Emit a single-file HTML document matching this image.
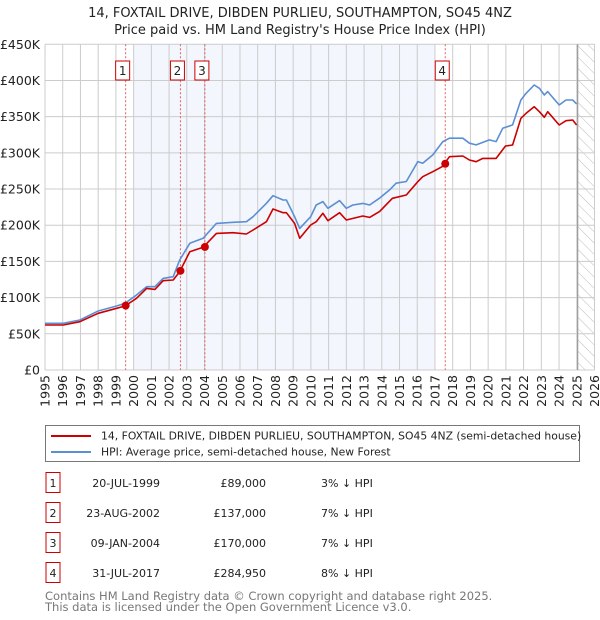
<!DOCTYPE html>
<html><head><meta charset="utf-8"><style>
body{margin:0;background:#fff;font-family:"Liberation Sans","DejaVu Sans",sans-serif;}
#wrap{position:relative;width:600px;height:620px;overflow:hidden;}
svg text{font-family:"DejaVu Sans","Liberation Sans",sans-serif;}
</style></head><body><div id="wrap">
<svg id="chart" width="600" height="620"></svg>
</div>
<script>
const hpiYears=[1995,1996.03,1996.97,1998,1999.04,1999.52,2000.16,2000.73,2001.2,2001.66,2002.23,2002.6,2003.17,2003.92,2004.67,2005.61,2006.36,2006.74,2007.49,2007.86,2008.43,2008.62,2009.08,2009.37,2009.99,2010.3,2010.68,2010.96,2011.62,2012.0,2012.37,2012.93,2013.31,2013.87,2014.44,2014.81,2015.38,2016.03,2016.31,2016.88,2017.44,2017.82,2018.57,2018.94,2019.32,2020.07,2020.45,2020.82,2021.38,2021.85,2022.14,2022.6,2022.89,2023.17,2023.36,2024.01,2024.39,2024.77,2024.99];
const hpiValues=[64.5,64.5,69.1,81.5,88.4,92.1,103.6,115.1,115.1,126.6,128.9,152,175,181.9,202.6,204,204.9,211.8,230.3,240.8,234.9,234.9,211.8,195.7,211.8,228,232.6,223.4,234,223.4,228,230.2,228,237.4,248.9,258.1,260.4,288,285.7,297.2,315.6,320.2,320.2,313.3,311,317.9,315.6,334,338.6,373,382.3,393.8,389.2,380,384.6,366.2,373.1,373.1,367.6];
const propYears=[1995,1996.03,1996.97,1998,1999.04,1999.52,2000.16,2000.73,2001.2,2001.66,2002.23,2002.6,2003.17,2003.92,2004.67,2005.61,2006.36,2006.74,2007.49,2007.86,2008.43,2008.62,2009.08,2009.37,2009.99,2010.3,2010.68,2010.96,2011.62,2012.0,2012.93,2013.31,2013.87,2014.6,2015.38,2016.03,2016.31,2016.88,2017.4,2017.82,2018.57,2018.94,2019.32,2019.7,2020.45,2020.98,2021.38,2021.85,2022.14,2022.6,2022.89,2023.17,2023.36,2024.01,2024.39,2024.77,2024.99];
const propValues=[62.2,62.2,66.8,78.3,85.2,88.4,99,112.8,111.4,123.4,124.3,135.9,163.5,169.5,188.8,189.7,187.9,193.4,204.9,222.4,217.4,217.4,202.6,181.9,200.3,204.9,216.5,206.3,217.4,207.2,212.8,210.9,218.8,237.2,241.8,260.2,267.1,274,280.9,294.7,295.7,290.1,287.8,292.4,292.4,309.5,310.9,347.7,354.6,363.8,356.9,349.1,356.9,338.5,344.5,345.4,338.5];
const saleYears=[1999.55,2002.64,2004.02,2017.58];
const salePrices=[89,137,170,284.95];
const saleLabels=["1","2","3","4"];
const yTicks=[0,50,100,150,200,250,300,350,400,450];
const yTickLabels=["£0","£50K","£100K","£150K","£200K","£250K","£300K","£350K","£400K","£450K"];
const xTicks=[1995,1996,1997,1998,1999,2000,2001,2002,2003,2004,2005,2006,2007,2008,2009,2010,2011,2012,2013,2014,2015,2016,2017,2018,2019,2020,2021,2022,2023,2024,2025,2026];

const X0=45,X1=594.5,Y0=370,Y1=44.3;
const xs=y=>X0+(y-1995)/(2026-1995)*(X1-X0);
const ys=v=>Y0-v/450*(Y0-Y1);
const NS="http://www.w3.org/2000/svg";
const svg=document.getElementById('chart');
function mk(t,a,p){const e=document.createElementNS(NS,t);for(const k in a)e.setAttribute(k,a[k]);(p||svg).appendChild(e);return e;}

let t=mk('text',{x:300,y:17,'text-anchor':'middle','font-size':'13',fill:'#222'});t.textContent="14, FOXTAIL DRIVE, DIBDEN PURLIEU, SOUTHAMPTON, SO45 4NZ";


t=mk('text',{x:300,y:34,'text-anchor':'middle','font-size':'13',fill:'#222'});t.textContent="Price paid vs. HM Land Registry's House Price Index (HPI)";



let r=mk('rect',{x:xs(2000),y:Y1,width:xs(2017)-xs(2000),height:Y0-Y1,fill:'#eef2fb',opacity:'0.7'});


const defs=mk('defs',{});
const pat=mk('pattern',{id:'hatch',width:8,height:8,patternUnits:'userSpaceOnUse',patternTransform:'rotate(-45)'},defs);
mk('line',{x1:0,y1:0,x2:0,y2:8,stroke:'#bbb','stroke-width':1},pat);
r=mk('rect',{x:xs(2025.05),y:Y1,width:X1-xs(2025.05),height:Y0-Y1,fill:'url(#hatch)'});



const g=mk('g',{});


yTicks.forEach((v,i)=>{
 mk('line',{x1:X0,x2:X1,y1:ys(v),y2:ys(v),stroke:'#ccc','stroke-width':1},g);
 const l=mk('text',{x:X0-5,y:ys(v)+4.5,'text-anchor':'end','font-size':'12.5',fill:'#222'});
 l.textContent=yTickLabels[i];
 
 
});
xTicks.forEach(yr=>{
 mk('line',{x1:xs(yr),x2:xs(yr),y1:Y1,y2:Y0,stroke:'#ccc','stroke-width':1},g);
 const l=mk('text',{x:0,y:0,'text-anchor':'end','font-size':'12.5',fill:'#222',transform:`translate(${xs(yr)+4.5},${Y0+5}) rotate(-90)`});
 l.textContent=yr;
 
 
});
mk('line',{x1:xs(2025.05),x2:xs(2025.05),y1:Y1,y2:Y0,stroke:'#999','stroke-width':1.2});

saleYears.forEach((yr,i)=>{
 const l=mk('line',{x1:xs(yr),x2:xs(yr),y1:Y1,y2:Y0,stroke:'#e06060','stroke-width':1,'stroke-dasharray':'2,2'});
 
 
 const b=mk('rect',{x:xs(yr)-10,y:61,width:14,height:19,fill:'#fff',stroke:'#cc0000','stroke-width':1});
 
 
 const tx=mk('text',{x:xs(yr)-3,y:75,'text-anchor':'middle','font-size':'12',fill:'#222'});
 tx.textContent=saleLabels[i];
});

function line(xsArr,vs,col,name){
 const p=mk('polyline',{points:xsArr.map((y,i)=>xs(y).toFixed(1)+','+ys(vs[i]).toFixed(1)).join(' '),fill:'none',stroke:col,'stroke-width':1.6,'stroke-linejoin':'round'});
 
 
}
line(hpiYears,hpiValues,'#5b8fd4','hpi-line');
line(propYears,propValues,'#cc0000','property-price-line');
saleYears.forEach((yr,i)=>{
 const c=mk('circle',{cx:xs(yr),cy:ys(salePrices[i]),r:4,fill:'#cc0000'});
 
 
});

const lg=mk('g',{});


mk('rect',{x:45.5,y:425.5,width:534,height:36,fill:'#fff',stroke:'#777','stroke-width':1},lg);
mk('line',{x1:51,x2:91,y1:436,y2:436,stroke:'#cc0000','stroke-width':2},lg);
mk('line',{x1:51,x2:91,y1:452,y2:452,stroke:'#5b8fd4','stroke-width':2},lg);
t=mk('text',{x:101,y:439.5,'font-size':'10.8',fill:'#222'},lg);t.textContent="14, FOXTAIL DRIVE, DIBDEN PURLIEU, SOUTHAMPTON, SO45 4NZ (semi-detached house)";


t=mk('text',{x:101,y:455.5,'font-size':'10.8',fill:'#222'},lg);t.textContent="HPI: Average price, semi-detached house, New Forest";



const dates=["20-JUL-1999","23-AUG-2002","09-JAN-2004","31-JUL-2017"];
const prices=["£89,000","£137,000","£170,000","£284,950"];
const pcts=["3% ↓ HPI","7% ↓ HPI","7% ↓ HPI","8% ↓ HPI"];
dates.forEach((d,i)=>{
 const cy=483+i*30;
 const row=mk('g',{});
 
 
 mk('rect',{x:46,y:cy-10.5,width:14,height:20,fill:'#fff',stroke:'#cc0000','stroke-width':1},row);
 let a=mk('text',{x:53,y:cy+4,'text-anchor':'middle','font-size':'11',fill:'#222'},row);a.textContent=saleLabels[i];
 a=mk('text',{x:160,y:cy+4,'text-anchor':'end','font-size':'11',fill:'#222'},row);a.textContent=d;
 a=mk('text',{x:266,y:cy+4,'text-anchor':'end','font-size':'11',fill:'#222'},row);a.textContent=prices[i];
 a=mk('text',{x:321,y:cy+4,'font-size':'11',fill:'#222'},row);a.textContent=pcts[i];
});
t=mk('text',{x:45,y:600,'font-size':'11.5',fill:'#777'});t.textContent="Contains HM Land Registry data © Crown copyright and database right 2025.";


t=mk('text',{x:45,y:611,'font-size':'11.5',fill:'#777'});t.textContent="This data is licensed under the Open Government Licence v3.0.";


</script></body></html>
